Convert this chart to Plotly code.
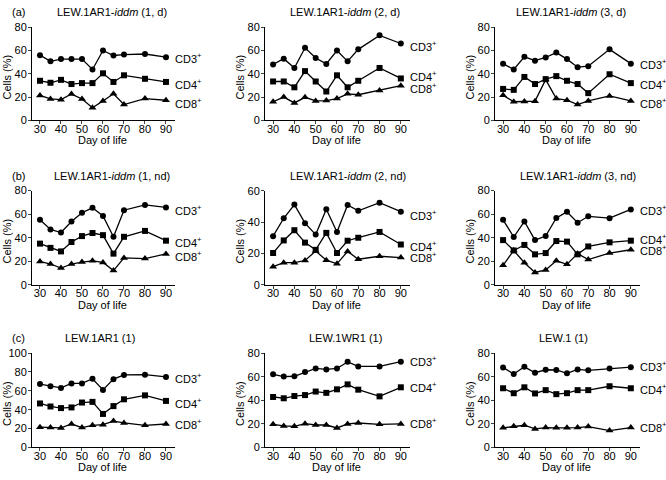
import plotly.graph_objects as go

days = [30, 35, 40, 45, 50, 55, 60, 65, 70, 80, 90]

panel_titles = [
    "LEW.1AR1-<i>iddm</i> (1, d)", "LEW.1AR1-<i>iddm</i> (2, d)", "LEW.1AR1-<i>iddm</i> (3, d)",
    "LEW.1AR1-<i>iddm</i> (1, nd)", "LEW.1AR1-<i>iddm</i> (2, nd)", "LEW.1AR1-<i>iddm</i> (3, nd)",
    "LEW.1AR1 (1)", "LEW.1WR1 (1)", "LEW.1 (1)",
]
row_letters = ["(a)", "(b)", "(c)"]
series_names = ["CD3<sup>+</sup>", "CD4<sup>+</sup>", "CD8<sup>+</sup>"]

cd3 = [
    [56, 50.7, 52.6, 52.6, 52.6, 43.7, 60, 55.7, 56.5, 57, 54.3],
    [48, 53, 45, 62.4, 53.5, 48.5, 60, 50.7, 61, 73, 66],
    [48.7, 43.7, 54.6, 51.3, 54, 58.2, 52.6, 45.7, 46.5, 61, 48.7],
    [55.2, 47, 44.4, 53.8, 61.2, 65.4, 58.5, 40.8, 63.4, 67.9, 65.7],
    [31, 42.4, 51.1, 39.3, 32, 48.2, 33.7, 50.9, 47.2, 52.3, 46.6],
    [55.2, 40.6, 53.8, 38, 41.4, 56.8, 62, 52.7, 58.2, 56.6, 64],
    [67.2, 64.8, 63.1, 67.9, 67.9, 72.8, 61, 72.4, 76.9, 77.2, 74.8],
    [62, 60.1, 60.4, 64, 67, 66.2, 67, 72.6, 68.7, 68.7, 72.8],
    [67.9, 62.3, 68.4, 63.4, 65.9, 65.7, 62.9, 66.2, 65.4, 67, 68.1],
]
cd4 = [
    [34, 32.3, 34.8, 31.2, 32, 32, 40.4, 33, 38.7, 35.7, 33],
    [33.4, 33.4, 28.4, 42.3, 33.4, 24.8, 38.7, 28.4, 34, 45, 36],
    [27, 26.2, 37.3, 31.2, 35.4, 38, 34, 31.2, 23.4, 39.6, 32],
    [35, 31.4, 28.4, 36.4, 41.4, 44, 42.2, 26.5, 40.8, 45.8, 37.5],
    [20.3, 28.3, 34.8, 26.9, 22.3, 33.1, 20.3, 28.1, 30, 33.7, 25.7],
    [38, 29.2, 33.9, 25.9, 27, 37.2, 36.7, 25.9, 32.6, 36.1, 37.5],
    [46.6, 43.4, 41.7, 42.4, 47.6, 48.3, 35.5, 43.8, 51, 55.2, 49.3],
    [42.8, 41.7, 43.6, 44.4, 47.4, 46.3, 49.3, 53.5, 49, 43.3, 51],
    [50.2, 46, 51, 45.8, 48.6, 45.2, 46, 48.6, 48.6, 51.9, 50.2],
]
cd8 = [
    [21.4, 18.4, 17.8, 22.6, 18.4, 10.9, 16.7, 22.8, 13.6, 18.7, 17.3],
    [16, 20, 15, 19.8, 16.7, 17, 18.7, 22.8, 22, 25.6, 29.8],
    [21.5, 16, 16.2, 16.5, 35, 18.7, 17.3, 13.6, 16.7, 21, 16.7],
    [19.9, 17.7, 14.3, 17.7, 19.3, 20.4, 19, 12.1, 22.9, 22.3, 26.2],
    [11.6, 14.1, 14.1, 15.5, 21.5, 15.7, 13.4, 21.3, 16.3, 18.2, 17.4],
    [16.6, 29.2, 18.8, 10.5, 12.7, 20.4, 17.4, 26.5, 21.5, 27, 29.8],
    [21.4, 21, 20.7, 24.8, 21, 23.4, 24.1, 27.9, 25.9, 23.4, 24.8],
    [19.6, 18.2, 17.9, 20.1, 19, 19, 16.5, 19.9, 20.7, 19.6, 19.9],
    [16.6, 17.9, 18.8, 15.7, 16.8, 16.6, 16.6, 16.8, 17.7, 14.3, 16.8],
]
y_max = [80, 80, 80, 80, 60, 80, 100, 80, 80]
x_ticks = [30, 40, 50, 60, 70, 80, 90]

# ---- layout / style (pixel geometry of a 666x480 canvas) ----
W, H = 666, 480
col_px = [(32, 175), (265, 410), (495, 640)]
row_px = [(21.7, 117.3), (189.3, 286), (356, 452.7)]
title_shift = [9, 8, 4, 9, 11, 11, -3, 9, -3]
# vertical nudges (data units) of the end labels so they don't collide
label_nudge = [
    (-1, -2, -2), (-2, 2, -2.2), (0, -1, -1.4),
    (-2, -1, -1.4), (-1.9, -0.9, 0.4), (-0.6, 1.1, 0),
    (-1.4, -2.4, 0.4), (0.3, 0.3, 0.8), (0.9, -0.5, 0.6),
]
markers = ["circle", "square", "triangle-up"]
msizes = [6, 6, 7]
FONT = "Liberation Sans, Arial, sans-serif"

fig = go.Figure()
layout = dict(
    width=W, height=H, margin=dict(l=0, r=0, t=0, b=0),
    paper_bgcolor="white", plot_bgcolor="white", showlegend=False,
    font=dict(family=FONT, size=11, color="black"),
)
annotations = []

for i in range(9):
    r, c = divmod(i, 3)
    ax = "" if i == 0 else str(i + 1)
    x0, x1 = col_px[c]
    yt, yb = row_px[r]
    layout["xaxis" + ax] = dict(
        domain=[x0 / W, x1 / W], range=[26.2, 94.3], anchor="y" + ax,
        tickvals=x_ticks, ticks="outside", ticklen=3, tickwidth=1,
        ticklabelstandoff=-5,
        showline=True, linecolor="black", linewidth=1, showgrid=False,
        zeroline=False, tickfont=dict(size=11, family=FONT),
    )
    layout["yaxis" + ax] = dict(
        domain=[1 - yb / H, 1 - yt / H], range=[0, y_max[i] + 0.05], anchor="x" + ax,
        tickvals=list(range(0, y_max[i] + 1, 20)),
        ticks="outside", ticklen=3, tickwidth=1, ticklabelstandoff=-1,
        showline=True, linecolor="black", linewidth=1, showgrid=False,
        zeroline=False, tickfont=dict(size=11, family=FONT),
    )
    for s, vals in enumerate([cd3[i], cd4[i], cd8[i]]):
        fig.add_trace(go.Scatter(
            x=days, y=vals, mode="lines+markers", xaxis="x" + ax, yaxis="y" + ax,
            line=dict(color="black", width=1.3),
            marker=dict(symbol=markers[s], size=msizes[s], color="black"),
            cliponaxis=False, hoverinfo="skip",
        ))
        annotations.append(dict(
            x=days[-1], y=vals[-1] + label_nudge[i][s], xref="x" + ax, yref="y" + ax,
            text=series_names[s], showarrow=False, xanchor="left", yanchor="middle",
            xshift=7, font=dict(size=11, family=FONT),
        ))
    annotations.append(dict(
        x=60, y=1, xref="x" + ax, yref="y" + ax + " domain",
        text=panel_titles[i], showarrow=False, xanchor="center", yanchor="middle",
        yshift=15, xshift=title_shift[i], font=dict(size=11, family=FONT),
    ))
    annotations.append(dict(
        x=60, y=0, xref="x" + ax, yref="y" + ax + " domain",
        text="Day of life", showarrow=False, xanchor="center", yanchor="middle",
        yshift=-20, font=dict(size=11, family=FONT),
    ))
    annotations.append(dict(
        x=0, y=0.46, xref="x" + ax + " domain", yref="y" + ax + " domain",
        text="Cells (%)", showarrow=False, textangle=-90, xanchor="center",
        yanchor="middle", xshift=-25, font=dict(size=11, family=FONT),
    ))
    if c == 0:
        annotations.append(dict(
            x=0, y=1, xref="x" + ax + " domain", yref="y" + ax + " domain",
            text=row_letters[r], showarrow=False, xanchor="center", yanchor="middle",
            xshift=-14, yshift=15, font=dict(size=11, family=FONT),
        ))

layout["annotations"] = annotations
fig.update_layout(**layout)
fig.write_html(
    "out.html",
    config={"displayModeBar": False},
    post_script="document.body.style.margin='0';document.body.style.overflow='hidden';",
)
